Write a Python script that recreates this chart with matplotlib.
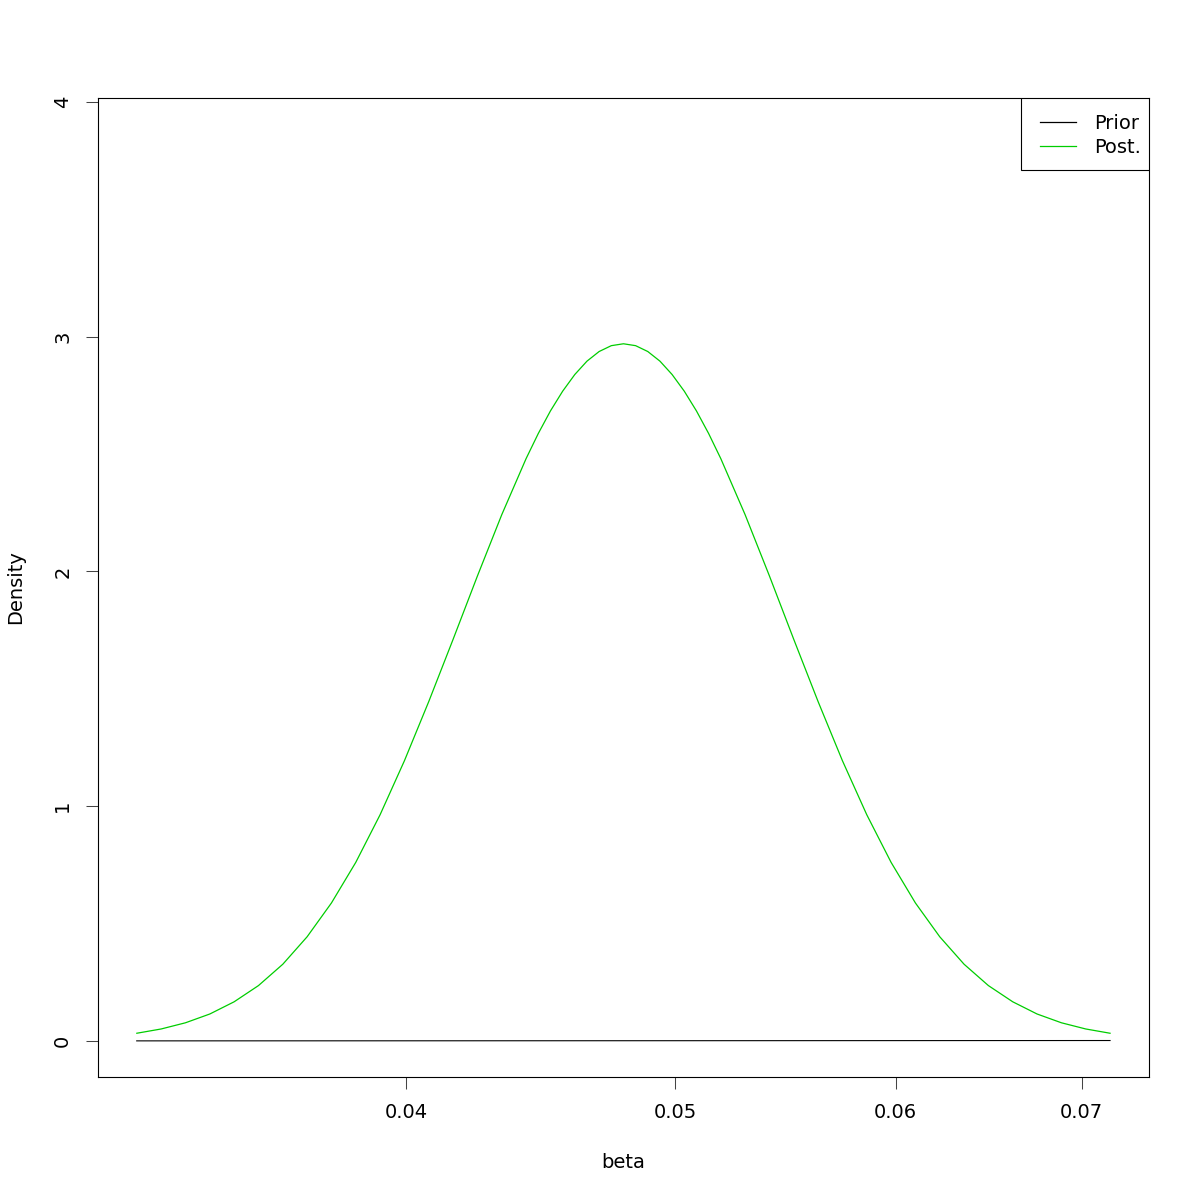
import matplotlib
matplotlib.use('Agg')
import matplotlib.pyplot as plt
import matplotlib.patches as patches
from matplotlib.ticker import NullLocator, FixedLocator, FixedFormatter

# values (x axis is logarithmic)
post_beta = [0.032003, 0.032655, 0.033320, 0.033998, 0.034690, 0.035396, 0.036117,
             0.036852, 0.037602, 0.038368, 0.039149, 0.039946, 0.040759, 0.041589,
             0.042436, 0.043300, 0.044182, 0.044631, 0.045082, 0.045540, 0.046000,
             0.046467, 0.046937, 0.047413, 0.047893, 0.048378, 0.048868, 0.049363,
             0.049863, 0.050368, 0.050878, 0.051393, 0.051914, 0.052971, 0.054049,
             0.055149, 0.056272, 0.057418, 0.058587, 0.059780, 0.060997, 0.062239,
             0.063506, 0.064799, 0.066118, 0.067464, 0.068838, 0.070240, 0.071670]
post_density = [0.0330, 0.0512, 0.0776, 0.115, 0.167, 0.236, 0.327,
                0.444, 0.588, 0.761, 0.964, 1.194, 1.446, 1.711,
                1.981, 2.242, 2.481, 2.588, 2.684, 2.768, 2.839,
                2.896, 2.937, 2.962, 2.970, 2.962, 2.937, 2.896,
                2.839, 2.768, 2.684, 2.588, 2.481, 2.242, 1.981,
                1.711, 1.446, 1.194, 0.964, 0.761, 0.588, 0.444,
                0.327, 0.236, 0.167, 0.115, 0.0776, 0.0512, 0.0330]

prior_beta = [0.03200, 0.04000, 0.05000, 0.06000, 0.07167]
prior_density = [0.0005, 0.0008, 0.0012, 0.0016, 0.0020]

x_ticks = [0.04, 0.05, 0.06, 0.07]
x_tick_labels = ['0.04', '0.05', '0.06', '0.07']
y_ticks = [0, 1, 2, 3, 4]
y_tick_labels = ['0', '1', '2', '3', '4']
legend_labels = ['Prior', 'Post.']

prior_color = 'black'
post_color = '#00CD00'

fig = plt.figure(figsize=(12, 12), dpi=100)
fig.patch.set_facecolor('white')
ax = fig.add_axes([98 / 1200, 1 - 1077 / 1200, 1051 / 1200, 979 / 1200])

ax.plot(prior_beta, prior_density, color=prior_color, lw=0.8)
ax.plot(post_beta, post_density, color=post_color, lw=0.9)

ax.set_xscale('log')
ax.set_xlim(0.03099, 0.07402)
ax.set_ylim(-0.1534, 4.017)

ax.xaxis.set_major_locator(FixedLocator(x_ticks))
ax.xaxis.set_major_formatter(FixedFormatter(x_tick_labels))
ax.xaxis.set_minor_locator(NullLocator())
ax.set_yticks(y_ticks)
ax.set_yticklabels(y_tick_labels)

ax.tick_params(axis='both', direction='out', length=8.6, width=0.75,
               color='#444444', labelsize=14, pad=10)
ax.tick_params(axis='y', labelrotation=90)
for lab in ax.get_yticklabels():
    lab.set_va('center')

for sp in ax.spines.values():
    sp.set_linewidth(0.8)
    sp.set_color('black')

# axis titles
fig.text(623.5 / 1200, 1 - 1162 / 1200, 'beta', ha='center', va='center', fontsize=14)
fig.text(16 / 1200, 1 - 587.5 / 1200, 'Density', ha='center', va='center',
         fontsize=14, rotation=90)

# legend box, R style
box = patches.Rectangle((0.8782, 0.9265), 0.1218, 0.0735, transform=ax.transAxes,
                        facecolor='white', edgecolor='black', lw=0.8, zorder=5)
ax.add_patch(box)
legend_y = [0.9755, 0.9510]
for lab, col, yy in zip(legend_labels, [prior_color, post_color], legend_y):
    ax.plot([0.8963, 0.9306], [yy, yy], transform=ax.transAxes, color=col,
            lw=0.9, zorder=6)
    ax.text(0.9477, yy - 0.002, lab, transform=ax.transAxes, ha='left', va='center',
            fontsize=14, zorder=6)

fig.savefig('out.png', dpi=100)
plt.close(fig)
